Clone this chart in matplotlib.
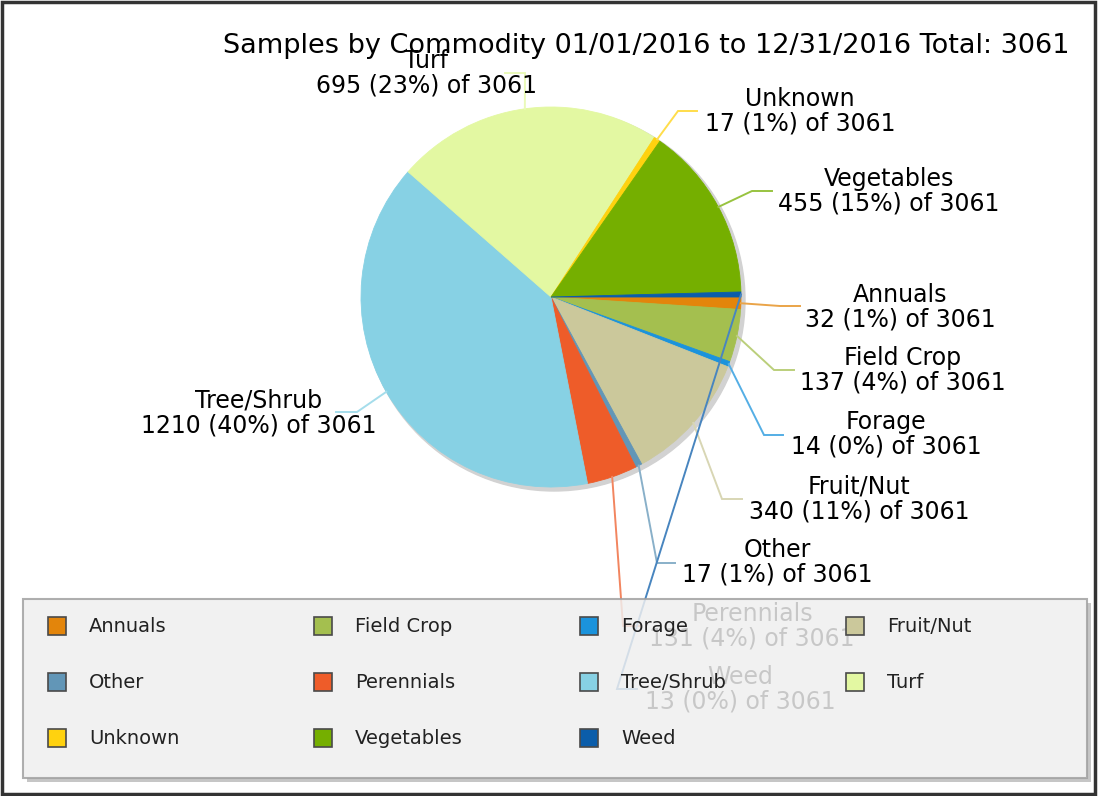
import numpy as np
import matplotlib.pyplot as plt
from matplotlib.patches import Rectangle, Circle
from matplotlib.colors import to_rgb

# data
commodities = ['Annuals', 'Field Crop', 'Forage', 'Fruit/Nut', 'Other', 'Perennials',
               'Tree/Shrub', 'Turf', 'Unknown', 'Vegetables', 'Weed']
counts = [32, 137, 14, 340, 17, 131, 1210, 695, 17, 455, 13]
colors = ['#e3850b', '#a4bf4f', '#1b93dc', '#cbc89b', '#6296b7', '#ee5c29',
          '#87d1e4', '#e3f8a2', '#ffd20f', '#75af00', '#0b5daa']
date_from = '01/01/2016'
date_to = '12/31/2016'

# label layout in pixel coords (y down): text centre, leader elbow, leader end x
label_xy = [(900, 307), (903, 370), (886, 434), (859, 499), (777, 562), (752, 626),
            (259, 413), (426, 73), (800, 111), (889, 191), (740, 689)]
elbow_xy = [(780, 306), (774, 370), (764, 435), (722, 499), (657, 563), (623, 626),
            (357, 412), (525, 73), (678, 111), (752, 191), (617, 689)]
end_x = [800, 794, 783, 742, 675, 640, 336, 505, 697, 772, 637]

total = sum(counts)
W, H = 1100, 796
cx, cy, R = 551, 297, 190

fig = plt.figure(figsize=(W / 100, H / 100), dpi=100)
ax = fig.add_axes([0, 0, 1, 1])

# soft shadow behind the pie
ax.add_patch(Circle((cx + 3, cy + 3), R + 1, color='#d2d2d2', zorder=1))

# y axis is inverted below, so counterclock=True runs clockwise on screen
wedges, _ = ax.pie(counts, colors=colors, startangle=0, counterclock=True,
                   center=(cx, cy), radius=R, frame=True,
                   wedgeprops=dict(linewidth=0.6))
for w, c in zip(wedges, colors):
    w.set_edgecolor(c)
    w.set_zorder(2)

ax.set_xlim(0, W)
ax.set_ylim(H, 0)
ax.set_aspect('equal')
ax.axis('off')

# labels with leader lines
cum = np.cumsum(counts) - np.array(counts) / 2
mids = np.deg2rad(cum / total * 360)
for i, name in enumerate(commodities):
    sx = cx + R * np.cos(mids[i])
    sy = cy + R * np.sin(mids[i])
    ex, ey = elbow_xy[i]
    lc = 0.75 * np.array(to_rgb(colors[i])) + 0.25
    ax.plot([sx, ex, end_x[i]], [sy, ey, ey], color=lc, lw=1.4, zorder=3,
            solid_joinstyle='miter')
    pct = round(counts[i] / total * 100)
    ax.text(label_xy[i][0], label_xy[i][1], f'{name}\n{counts[i]} ({pct}%) of {total}',
            ha='center', va='center', multialignment='center', fontsize=17,
            linespacing=1.05, color='#000000', zorder=4)

ax.text(646, 46, f'Samples by Commodity {date_from} to {date_to} Total: {total}',
        ha='center', va='center', fontsize=19.5, color='#000000', zorder=4)

# legend box (semi-transparent, labels behind it show faintly)
lx, ly, lw_, lh = 23, 599, 1064, 179
ax.add_patch(Rectangle((lx + 4, ly + lh), lw_, 4, color='#c6c6c6', lw=0, zorder=5))
ax.add_patch(Rectangle((lx + lw_, ly + 4), 4, lh, color='#c6c6c6', lw=0, zorder=5))
ax.add_patch(Rectangle((lx, ly), lw_, lh, facecolor='#efefef', edgecolor='#a0a0a0',
                       lw=1.5, alpha=0.84, zorder=6))
col_x0, col_step = 48, 266
row_y0, row_step = 626, 56
sq = 18
for i, name in enumerate(commodities):
    r, c = divmod(i, 4)
    x = col_x0 + c * col_step
    y = row_y0 + r * row_step
    ax.add_patch(Rectangle((x, y - sq / 2), sq, sq, facecolor=colors[i],
                           edgecolor='#4a4a4a', lw=1.2, zorder=7))
    ax.text(x + 41, y, name, ha='left', va='center', fontsize=14,
            color='#222222', zorder=7)

# outer frame
ax.add_patch(Rectangle((2, 2), W - 7, H - 4, fill=False, edgecolor='#333333',
                       lw=2.5, zorder=10, clip_on=False))

fig.savefig('out.png', dpi=100)
